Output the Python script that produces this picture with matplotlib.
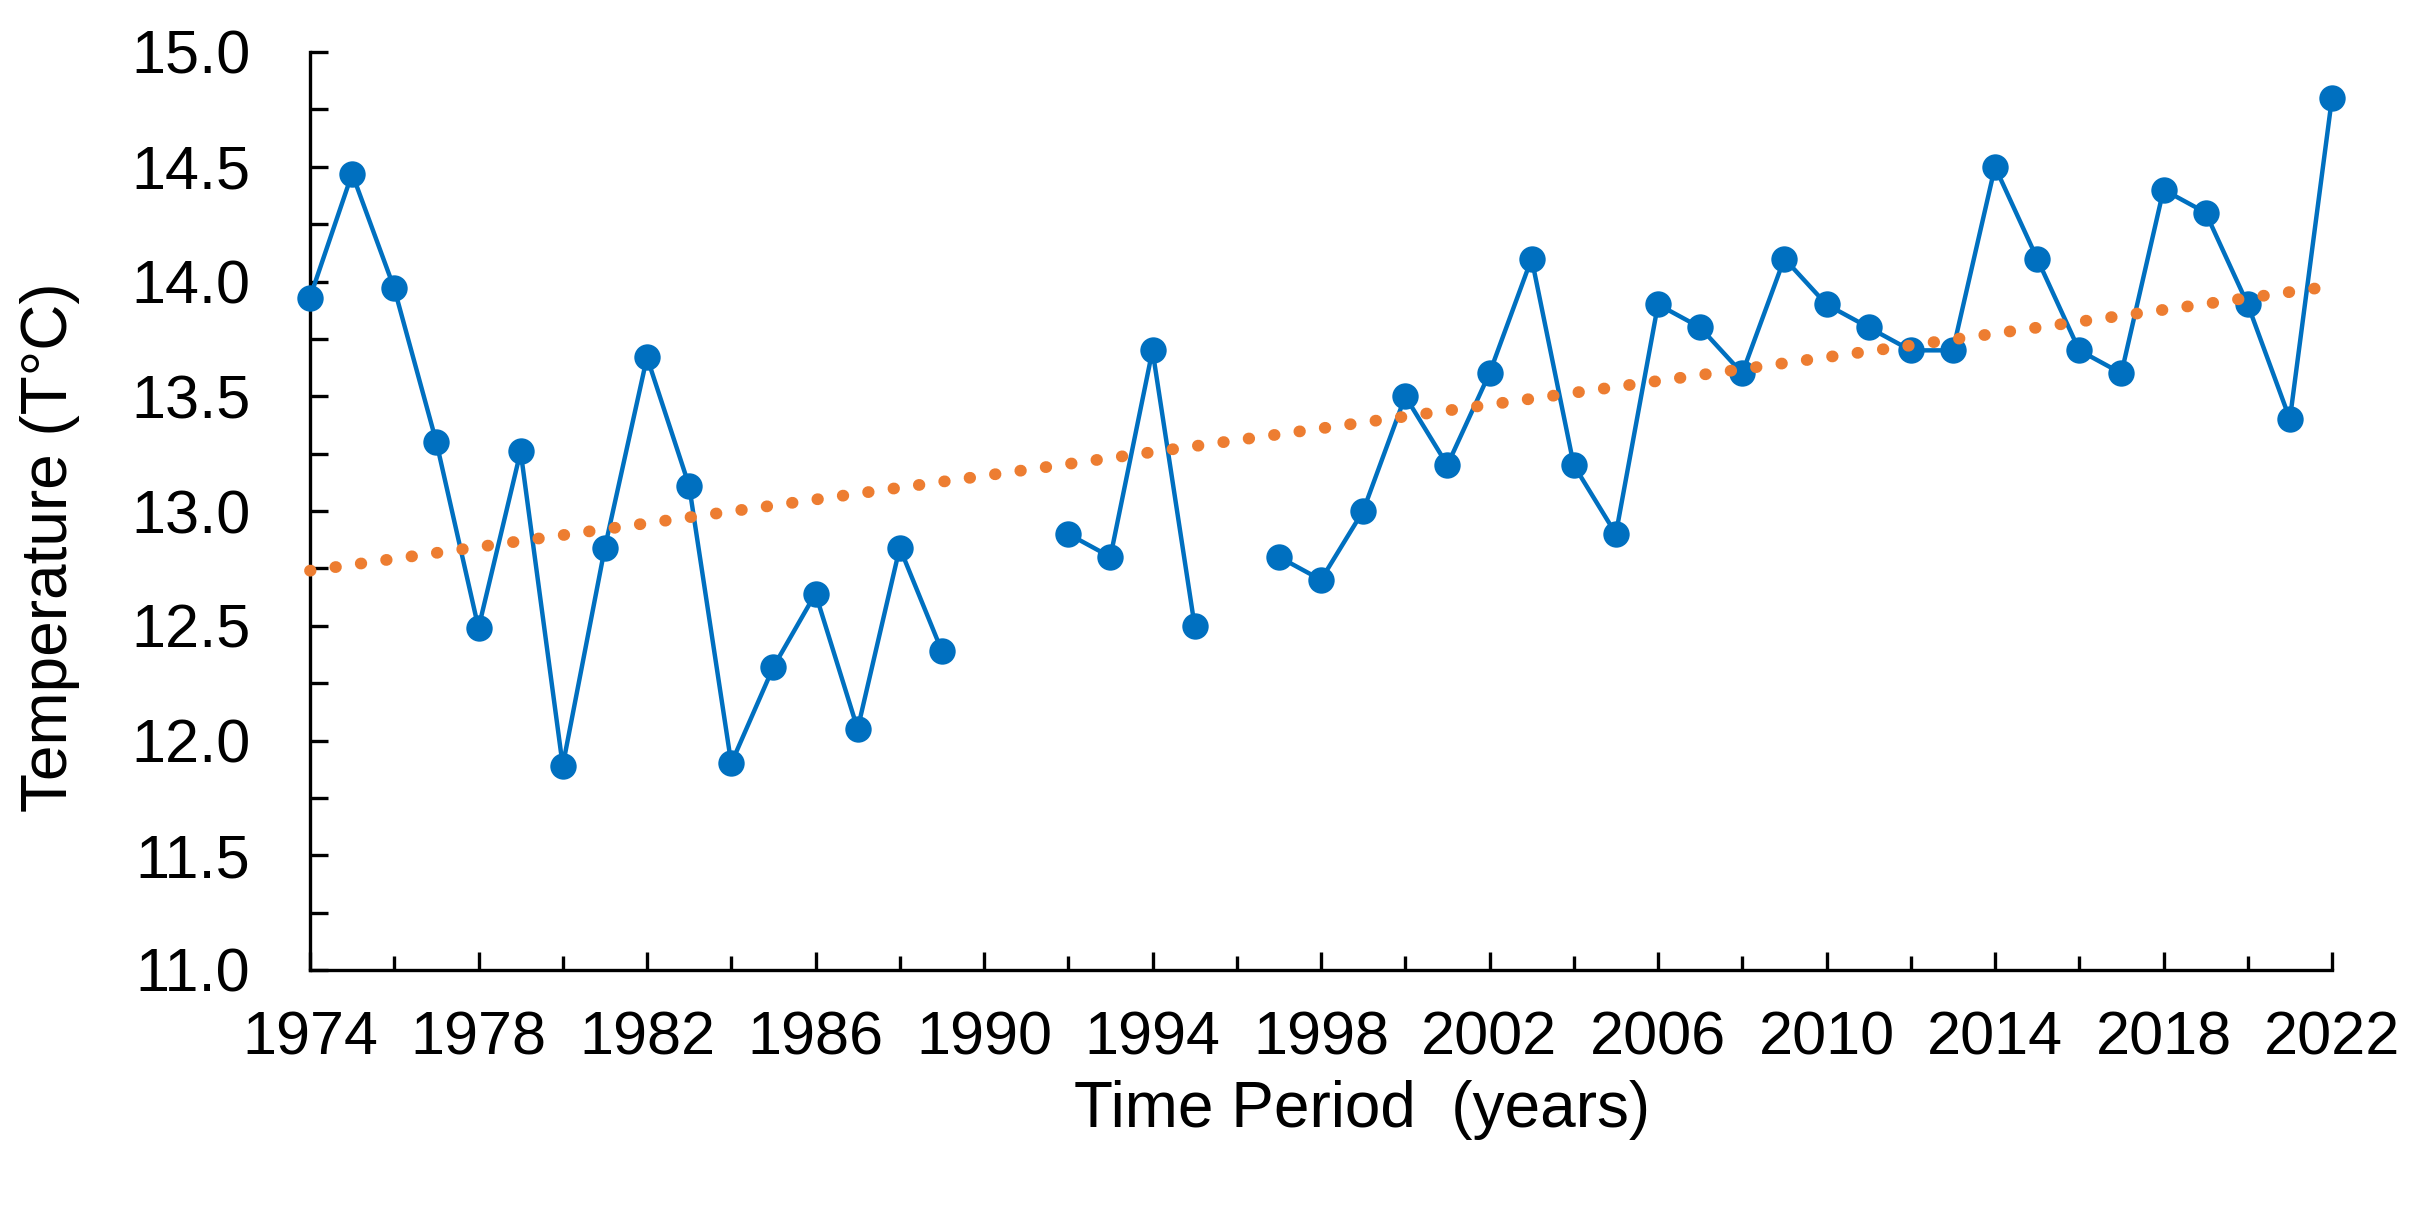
import numpy as np
import matplotlib.pyplot as plt
from matplotlib.ticker import MultipleLocator, FormatStrFormatter

plt.rcParams['font.family'] = ['Liberation Sans', 'DejaVu Sans']

# annual mean temperature, gaps where no data
years = np.arange(1974, 2023)
temps = [13.93, 14.47, 13.97, 13.30, 12.49, 13.26, 11.89, 12.84, 13.67, 13.11,
         11.90, 12.32, 12.64, 12.05, 12.84, 12.39, np.nan, np.nan, 12.9, 12.8,
         13.7, 12.5, np.nan, 12.8, 12.7, 13.0, 13.5, 13.2, 13.6, 14.1,
         13.2, 12.9, 13.9, 13.8, 13.6, 14.1, 13.9, 13.8, 13.7, 13.7,
         14.5, 14.1, 13.7, 13.6, 14.4, 14.3, 13.9, 13.4, 14.8]

# linear trend line end points
trend_years = [1974, 2022]
trend_vals = [12.74, 13.98]

xticks_major = np.arange(1974, 2023, 4)
xticks_minor = np.arange(1974, 2023, 2)

blue = '#0070C0'
orange = '#ED7D31'

fig = plt.figure(figsize=(24.18, 12.08), dpi=100)
ax = fig.add_axes([310/2418, 1-970/1208, (2332-310)/2418, (970-52)/1208])

ax.plot(years, temps, color=blue, lw=3.2, marker='o', markersize=19,
        markeredgewidth=0, zorder=3, clip_on=False)
ax.plot(trend_years, trend_vals, color=orange, lw=8.5,
        linestyle=(0, (0.05, 2.12)), dash_capstyle='round',
        solid_capstyle='round', zorder=4, clip_on=False)

ax.set_xlim(1974, 2022)
ax.set_ylim(11, 15)
ax.set_xticks(xticks_major)
ax.set_xticks(xticks_minor, minor=True)
ax.yaxis.set_major_locator(MultipleLocator(0.5))
ax.yaxis.set_minor_locator(MultipleLocator(0.25))
ax.yaxis.set_major_formatter(FormatStrFormatter('%.1f'))

for s in ['top', 'right']:
    ax.spines[s].set_visible(False)
for s in ['left', 'bottom']:
    ax.spines[s].set_linewidth(2.4)

ax.tick_params(axis='both', which='both', direction='in', width=2.4, labelsize=44)
ax.tick_params(axis='x', which='major', length=13, pad=29)
ax.tick_params(axis='x', which='minor', length=10)
ax.tick_params(axis='y', which='both', length=13, pad=43)

fig.text(1362/2418, 1-1110/1208, 'Time Period  (years)', fontsize=46,
         ha='center', va='center')
fig.text(50/2418, 1-547/1208, 'Temperature (T°C)', fontsize=46,
         rotation=90, ha='center', va='center')

plt.savefig('out.png', dpi=100)
